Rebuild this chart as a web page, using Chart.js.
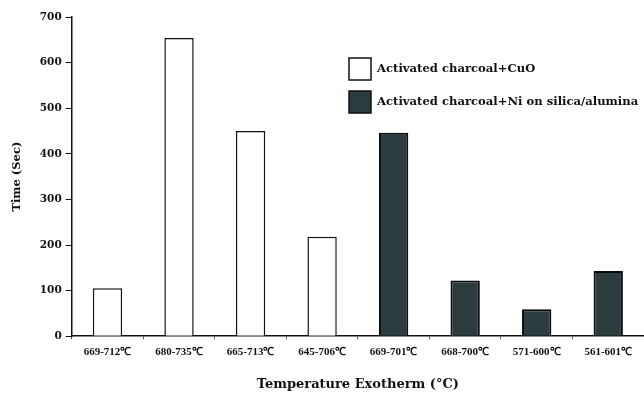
<!DOCTYPE html>
<html>
<head>
<meta charset="utf-8">
<script src="https://cdn.jsdelivr.net/npm/chart.js@4/dist/chart.umd.min.js"></script>
<style>
html,body{margin:0;padding:0;background:#fff;}
#wrap{width:644px;height:394px;position:relative;}
</style>
</head>
<body>
<div id="wrap"><canvas id="c" width="644" height="394"></canvas></div>
<script>
const categories = ["669-712℃","680-735℃","665-713℃","645-706℃","669-701℃","668-700℃","571-600℃","561-601℃"];
const cuoValues = [105, 654, 450, 218, null, null, null, null];
const niValues = [null, null, null, null, 446, 122, 59, 143];
const seriesLabels = ["Activated charcoal+CuO", "Activated charcoal+Ni on silica/alumina"];
const yTicks = [0, 100, 200, 300, 400, 500, 600, 700];

const SERIF = "'Liberation Serif','Times New Roman',serif";
const WIDE = "'DejaVu Serif',serif";

const legendPlugin = {
  id: 'customLegend',
  afterDraw(chart) {
    const ctx = chart.ctx;
    ctx.save();
    const x0 = 349, ys = [69, 102];
    chart.data.datasets.forEach((ds, i) => {
      const y = ys[i];
      ctx.fillStyle = ds.backgroundColor;
      ctx.strokeStyle = '#111';
      ctx.lineWidth = 1.5;
      ctx.fillRect(x0, y - 11, 22, 22);
      ctx.strokeRect(x0, y - 11, 22, 22);
      ctx.fillStyle = '#111';
      ctx.font = "bold 11.6px " + WIDE;
      ctx.textBaseline = 'middle';
      ctx.textAlign = 'left';
      ctx.fillText(ds.label, x0 + 28, y);
    });
    ctx.restore();
  }
};

new Chart(document.getElementById('c'), {
  type: 'bar',
  data: {
    labels: categories,
    datasets: [
      { label: seriesLabels[0], data: cuoValues, backgroundColor: '#ffffff', borderColor: '#111', borderWidth: 1.5 },
      { label: seriesLabels[1], data: niValues, backgroundColor: '#2c3b3e', borderColor: '#0a0a0a', borderWidth: 2 }
    ]
  },
  options: {
    responsive: false,
    animation: false,
    skipNull: true,
    barPercentage: 0.41,
    categoryPercentage: 1.0,
    layout: { padding: { top: 17, right: 0, left: 6, bottom: 2 } },
    plugins: { legend: { display: false }, tooltip: { enabled: false } },
    scales: {
      x: {
        offset: true,
        grid: { display: true, drawOnChartArea: false, tickLength: 3, color: '#555', offset: true },
        border: { color: '#111', width: 1.5 },
        ticks: { color: '#111', font: { family: SERIF, size: 11, weight: 'bold' }, maxRotation: 0, autoSkip: false, padding: 6 },
        title: { display: true, text: 'Temperature Exotherm (°C)', color: '#111', font: { family: WIDE, size: 13, weight: 'bold' }, padding: { top: 12, bottom: 0 } }
      },
      y: {
        min: 0, max: 700,
        afterBuildTicks(scale) { scale.ticks = yTicks.map(v => ({ value: v })); },
        grid: { display: true, drawOnChartArea: false, tickLength: 6, color: '#111' },
        border: { color: '#111', width: 1.5 },
        ticks: { color: '#111', font: { family: WIDE, size: 10.5, weight: 'bold' }, padding: 4 },
        title: { display: true, text: 'Time (Sec)', color: '#111', font: { family: WIDE, size: 11.5, weight: 'bold' }, padding: { bottom: 12 } }
      }
    }
  },
  plugins: [legendPlugin]
});
</script>
</body>
</html>
